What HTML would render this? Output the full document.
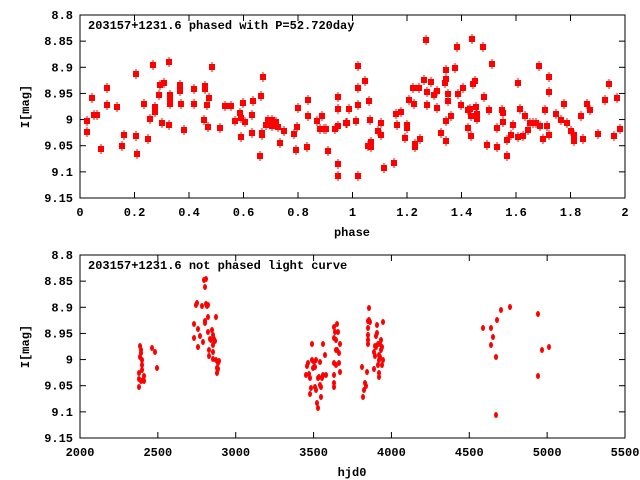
<!DOCTYPE html>
<html><head><meta charset="utf-8"><style>
html,body{margin:0;padding:0;background:#fff;}
svg{display:block;font-family:"Liberation Mono","DejaVu Sans Mono",monospace;font-weight:bold;font-size:12px;}
</style></head><body>
<svg id="s" width="640" height="480" xmlns="http://www.w3.org/2000/svg">
<rect width="640" height="480" fill="#fff"/>
<g id="g"></g>
</svg>
<script>
(function(){
var g=document.getElementById('g'),NS='http://www.w3.org/2000/svg';
function el(t,a,txt){var e=document.createElementNS(NS,t);for(var k in a)e.setAttribute(k,a[k]);if(txt)e.textContent=txt;g.appendChild(e);return e;}
function frame(x0,x1,y0,y1,yt,xt,xtitle,title){
 el('rect',{x:x0,y:y0,width:x1-x0,height:y1-y0,fill:'none',stroke:'#000','stroke-width':1});
 var n=yt.length;
 for(var i=0;i<n;i++){var y=y0+(y1-y0)*i/(n-1);
  el('line',{x1:x0,x2:x0+6,y1:y,y2:y,stroke:'#000'});el('line',{x1:x1,x2:x1-6,y1:y,y2:y,stroke:'#000'});
  el('text',{x:73,y:y+4,'text-anchor':'end'},yt[i]);}
 var m=xt.length;
 for(var i=0;i<m;i++){var x=x0+(x1-x0)*i/(m-1);
  el('line',{x1:x,x2:x,y1:y1,y2:y1-6,stroke:'#000'});el('line',{x1:x,x2:x,y1:y0,y2:y0+6,stroke:'#000'});
  el('text',{x:x,y:y1+18,'text-anchor':'middle'},xt[i]);}
 el('text',{x:352,y:y1+38,'text-anchor':'middle'},xtitle);
 el('text',{x:88,y:y0+14},title);
 el('text',{x:0,y:0,transform:'translate(29,'+((y0+y1)/2)+') rotate(-90)','text-anchor':'middle'},'I[mag]');
}
var yt=['8.8','8.85','8.9','8.95','9','9.05','9.1','9.15'];
frame(80,625,15,198,yt,['0','0.2','0.4','0.6','0.8','1','1.2','1.4','1.6','1.8','2'],'phase','203157+1231.6 phased with P=52.720day');
frame(80,625,255,438,yt,['2000','2500','3000','3500','4000','4500','5000','5500'],'hjd0','203157+1231.6 not phased light curve');
var tp=[[87,132],[87,121],[92,98],[94,115],[97,115],[101,149],[107,88],[107,105],[117,107],[122,146],[124,135],[136,74],[136,136],[137,154],[144,104],[148,139],[150,119],[153,65],[155,107],[155,112],[159,95],[160,85],[162,123],[169,62],[169,125],[164,83],[170,95],[170,99],[170,104],[180,85],[180,91],[181,104],[184,130],[194,89],[194,104],[204,120],[205,86],[205,89],[207,105],[208,127],[209,98],[212,67],[220,128],[225,106],[231,106],[235,121],[240,113],[241,118],[241,137],[243,103],[245,122],[252,115],[252,133],[253,101],[260,156],[261,96],[262,133],[262,135],[263,77],[266,125],[268,120],[272,120],[272,126],[276,122],[278,127],[280,143],[284,131],[294,134],[296,150],[297,127],[298,108],[307,147],[308,116],[308,100],[317,121],[320,129],[322,116],[324,129],[326,129],[328,151],[335,129],[338,97],[338,109],[338,126],[338,164],[338,176],[346,123],[349,109],[356,121],[358,66],[358,88],[358,105],[358,176],
[347,123],[365,81],[369,101],[370,120],[368,146],[371,142],[371,147],[378,131],[381,123],[381,135],[384,168],[394,163],[396,114],[397,125],[401,112],[405,138],[407,125],[407,128],[409,100],[413,88],[414,104],[415,144],[415,147],[419,88],[420,139],[424,80],[426,40],[427,92],[427,105],[431,82],[434,95],[437,91],[437,108],[441,133],[445,83],[446,70],[446,79],[446,121],[446,141],[448,94],[448,101],[451,116],[455,68],[457,47],[458,94],[461,105],[463,88],[468,110],[468,128],[470,109],[471,116],[471,136],[472,39],[473,84],[475,81],[476,107],[477,114],[477,119],[483,47],[484,97],[487,145],[489,110],[492,64],[497,128],[497,147],[502,110],[503,113],[503,122],[507,140],[507,156],[511,135],[513,125],[518,83],[518,137],[520,109],[523,136],[525,116],[528,130],[530,123],[533,123],[536,123],[539,66],[540,126],[543,139],[545,110],[547,126],[549,77],[549,92],[549,135],[556,114],[561,120],[564,104],[567,123],[571,131],[574,135],[574,141],[581,116],[583,139],[587,104],[590,110],[598,134],[605,100],[609,84],[614,136],[617,98],[620,129]];
tp.forEach(function(p){el('rect',{x:p[0]-3,y:p[1]-3,width:6,height:6,fill:'#f00'});el('line',{x1:p[0],x2:p[0],y1:p[1]-5,y2:p[1]+5,stroke:'#f00'});});
var bt=[[140,346],[141,350],[141,353],[140,357],[142,360],[142,365],[142,370],[139,373],[139,379],[141,381],[143,380],[144,376],[139,387],[144,381],[152,348],[155,352],[157,368],[194,324],[194,338],[196,305],[197,303],[198,329],[198,347],[200,336],[202,306],[203,342],[204,280],[206,279],[205,287],[205,321],[206,304],[207,306],[208,305],[205,323],[208,317],[208,332],[209,350],[209,356],[210,339],[211,340],[212,330],[213,345],[213,335],[213,352],[214,339],[215,341],[216,317],[213,359],[216,360],[217,368],[217,373],[218,363],[219,361],[218,369],
[306,375],[307,366],[308,363],[309,374],[310,378],[311,388],[310,394],[312,344],[312,360],[313,368],[314,362],[315,367],[315,387],[316,390],[316,360],[317,403],[318,408],[318,378],[319,377],[320,362],[320,385],[321,387],[321,397],[322,378],[323,344],[323,375],[325,355],[326,375],[334,327],[334,338],[334,363],[334,375],[334,383],[334,387],[335,332],[336,340],[336,350],[336,365],[337,324],[337,350],[338,332],[339,353],[339,363],[340,344],[340,372],
[362,367],[363,397],[364,390],[365,383],[366,386],[367,372],[368,321],[368,328],[368,335],[368,340],[368,344],[369,308],[369,320],[370,322],[374,352],[374,369],[375,346],[375,356],[376,336],[376,347],[377,325],[377,333],[378,344],[378,365],[379,355],[379,360],[379,373],[379,377],[380,344],[380,357],[381,340],[381,350],[382,347],[382,365],[383,360],[383,322],
[483,328],[491,328],[497,320],[501,310],[510,307],[493,337],[491,345],[496,357],[496,415],[538,314],[542,350],[549,347],[538,376]];
bt.forEach(function(p){el('ellipse',{cx:p[0],cy:p[1],rx:2,ry:3,fill:'#f00'});});
})();
</script>
</body></html>
